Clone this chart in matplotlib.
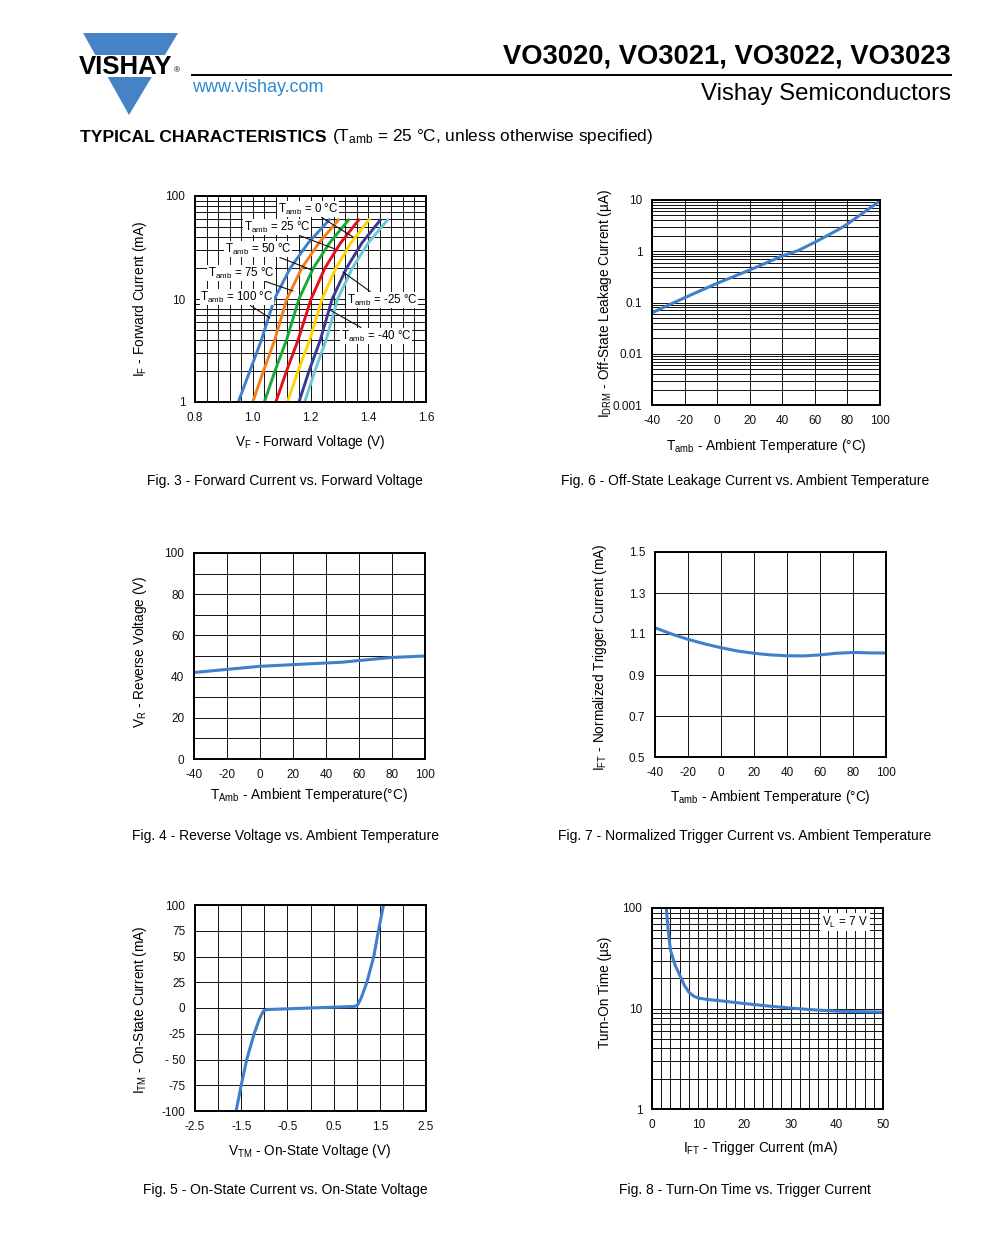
import numpy as np
import matplotlib
matplotlib.use('Agg')
import matplotlib.pyplot as plt
from matplotlib.ticker import MultipleLocator, FixedLocator, FixedFormatter, LogLocator, NullFormatter
from matplotlib.patches import Polygon, Rectangle

plt.rcParams['font.family'] = ['Liberation Sans', 'DejaVu Sans']
plt.rcParams['mathtext.fontset'] = 'custom'
plt.rcParams['mathtext.rm'] = 'Liberation Sans'
plt.rcParams['mathtext.it'] = 'Liberation Sans:italic'
plt.rcParams['mathtext.bf'] = 'Liberation Sans:bold'
plt.rcParams['axes.unicode_minus'] = False

# ---------------- data ----------------
# Fig. 3 forward current vs forward voltage
fig3_current = [1, 2, 4, 10, 20, 35, 60]  # mA
fig3_temps = ['100', '75', '50', '25', '0', '-25', '-40']
fig3_v_100 = [0.950, 0.990, 1.030, 1.075, 1.130, 1.192, 1.268]
fig3_v_75 = [1.000, 1.037, 1.076, 1.118, 1.170, 1.229, 1.300]
fig3_v_50 = [1.040, 1.077, 1.117, 1.160, 1.210, 1.266, 1.335]
fig3_v_25 = [1.080, 1.117, 1.157, 1.202, 1.250, 1.304, 1.370]
fig3_v_0 = [1.120, 1.157, 1.197, 1.240, 1.288, 1.340, 1.405]
fig3_v_m25 = [1.160, 1.195, 1.234, 1.275, 1.325, 1.378, 1.445]
fig3_v_m40 = [1.180, 1.215, 1.254, 1.294, 1.345, 1.400, 1.470]

# Fig. 6 off-state leakage current vs temperature
fig6_temp = [-40, -20, 0, 20, 40, 50, 60, 75, 80, 100]
fig6_idrm = [0.063, 0.124, 0.237, 0.43, 0.81, 1.04, 1.50, 2.7, 3.4, 9.6]

# Fig. 4 reverse voltage vs temperature
fig4_temp = [-40, -20, 0, 20, 40, 50, 60, 80, 100]
fig4_vr = [42.0, 43.5, 45.0, 45.8, 46.6, 47.0, 47.8, 49.3, 50.0]

# Fig. 7 normalized trigger current vs temperature
fig7_temp = [-40, -30, -20, -10, 0, 10, 20, 30, 40, 50, 60, 70, 80, 90, 100]
fig7_ift = [1.130, 1.100, 1.074, 1.052, 1.033, 1.017, 1.006, 0.998, 0.994, 0.993, 0.998, 1.006, 1.010, 1.008, 1.007]

# Fig. 5 on-state current vs on-state voltage
fig5_v = [-1.61, -1.50, -1.38, -1.22, -1.10, -1.02, -0.95, -0.5, 0.0, 0.5, 0.95, 1.02, 1.10, 1.22, 1.37, 1.47, 1.58]
fig5_i = [-100, -75, -50, -25, -10, -3, -1.5, -0.8, 0, 0.8, 1.5, 3, 10, 25, 50, 75, 100]

# Fig. 8 turn-on time vs trigger current
fig8_ift = [3.1, 3.5, 4, 5, 6, 7, 8, 9, 10, 12, 15, 20, 25, 30, 35, 40, 45, 50]
fig8_ton = [100, 60, 38, 27, 21.5, 17, 14.5, 13.3, 12.7, 12.3, 11.9, 11.2, 10.6, 10.1, 9.7, 9.4, 9.3, 9.2]

BLUE = '#3f7fcb'
fig3_colors = ['#3f7fcb', '#f07f1c', '#19a83c', '#e3101f', '#ffd400', '#393a93', '#6cc6d6']

# ---------------- figure ----------------
W, H = 1000, 1250
fig = plt.figure(figsize=(10, 12.5), dpi=100)


def rect(l, t, r, b):
    return [l / W, 1 - b / H, (r - l) / W, (b - t) / H]


def fx(px):
    return px / W


def fy(py):
    return 1 - py / H


def style(ax):
    for s in ax.spines.values():
        s.set_linewidth(1.4)
        s.set_color('black')
        s.set_zorder(5)
    ax.tick_params(which='both', length=0, labelsize=8.5, pad=7, colors='#111111')
    ax.grid(which='both', color='#111111', lw=0.7)
    ax.set_axisbelow(True)


LBL = 9.8
CAP = 10.0

# ---- Fig 3
ax3 = fig.add_axes(rect(195, 196, 426, 402))
style(ax3)
ax3.set_yscale('log')
ax3.set_xlim(0.8, 1.6)
ax3.set_ylim(1, 100)
ax3.xaxis.set_major_locator(FixedLocator([0.8, 1.0, 1.2, 1.4, 1.6]))
ax3.xaxis.set_major_formatter(FixedFormatter(['0.8', '1.0', '1.2', '1.4', '1.6']))
ax3.xaxis.set_minor_locator(MultipleLocator(0.04))
ax3.yaxis.set_major_locator(FixedLocator([1, 10, 100]))
ax3.yaxis.set_major_formatter(FixedFormatter(['1', '10', '100']))
ax3.yaxis.set_minor_locator(LogLocator(base=10, subs=np.arange(2, 10)))
ax3.yaxis.set_minor_formatter(NullFormatter())
for v, c in zip([fig3_v_100, fig3_v_75, fig3_v_50, fig3_v_25, fig3_v_0, fig3_v_m25, fig3_v_m40], fig3_colors):
    ax3.plot(v, fig3_current, color=c, lw=2.1, solid_capstyle='butt', zorder=3)


def pxa(px, py):
    # pixel -> axes fraction of ax3
    return ((px - 195) / 231, (402 - py) / 206)


labels3 = [
    (r'T$_{\rm amb}$ = 0 °C', (308, 209), (353, 237)),
    (r'T$_{\rm amb}$ = 25 °C', (277, 227), (335, 249)),
    (r'T$_{\rm amb}$ = 50 °C', (258, 249), (312, 270)),
    (r'T$_{\rm amb}$ = 75 °C', (241, 273), (293, 291)),
    (r'T$_{\rm amb}$ = 100 °C', (237, 297), (270, 318)),
    (r'T$_{\rm amb}$ = -25 °C', (382, 300), (343, 272)),
    (r'T$_{\rm amb}$ = -40 °C', (376, 336), (330, 310)),
]
for txt, tpos, lpos in labels3:
    ax3.annotate(txt, xy=pxa(*lpos), xycoords='axes fraction', xytext=pxa(*tpos),
                 textcoords='axes fraction', ha='center', va='center', fontsize=8.3,
                 bbox=dict(boxstyle='square,pad=0.08', fc='white', ec='none'),
                 arrowprops=dict(arrowstyle='-', lw=0.8, color='#111111', shrinkA=0, shrinkB=0),
                 zorder=4)

fig.text(fx(140), fy(299), r'I$_{\rm F}$ - Forward Current (mA)', rotation=90, ha='center', va='center', fontsize=LBL)
fig.text(fx(310), fy(442), r'V$_{\rm F}$ - Forward Voltage (V)', ha='center', va='center', fontsize=LBL)
fig.text(fx(285), fy(481), 'Fig. 3 - Forward Current vs. Forward Voltage', ha='center', va='center', fontsize=CAP)

# ---- Fig 6
ax6 = fig.add_axes(rect(652, 200, 880, 405))
style(ax6)
ax6.set_yscale('log')
ax6.set_xlim(-40, 100)
ax6.set_ylim(0.001, 10)
ax6.xaxis.set_major_locator(MultipleLocator(20))
ax6.yaxis.set_major_locator(FixedLocator([0.001, 0.01, 0.1, 1, 10]))
ax6.yaxis.set_major_formatter(FixedFormatter(['0.001', '0.01', '0.1', '1', '10']))
ax6.yaxis.set_minor_locator(LogLocator(base=10, subs=np.arange(2, 10)))
ax6.yaxis.set_minor_formatter(NullFormatter())
ax6.plot(fig6_temp, fig6_idrm, color=BLUE, lw=2.2, zorder=3)
fig.text(fx(605), fy(304), r'I$_{\rm DRM}$ - Off-State Leakage Current (µA)', rotation=90, ha='center', va='center', fontsize=LBL)
fig.text(fx(766), fy(446), r'T$_{\rm amb}$ - Ambient Temperature (°C)', ha='center', va='center', fontsize=LBL)
fig.text(fx(745), fy(481), 'Fig. 6 - Off-State Leakage Current vs. Ambient Temperature', ha='center', va='center', fontsize=CAP)

# ---- Fig 4
ax4 = fig.add_axes(rect(194, 553, 425, 759))
style(ax4)
ax4.set_xlim(-40, 100)
ax4.set_ylim(0, 100)
ax4.xaxis.set_major_locator(MultipleLocator(20))
ax4.yaxis.set_major_locator(MultipleLocator(20))
ax4.yaxis.set_minor_locator(MultipleLocator(10))
ax4.plot(fig4_temp, fig4_vr, color=BLUE, lw=2.2, zorder=3)
fig.text(fx(140), fy(652), r'V$_{\rm R}$ - Reverse Voltage (V)', rotation=90, ha='center', va='center', fontsize=LBL)
fig.text(fx(309), fy(795), r'T$_{\rm Amb}$ - Ambient Temperature(°C)', ha='center', va='center', fontsize=LBL)
fig.text(fx(285), fy(836), 'Fig. 4 - Reverse Voltage vs. Ambient Temperature', ha='center', va='center', fontsize=CAP)

# ---- Fig 7
ax7 = fig.add_axes(rect(655, 552, 886, 757))
style(ax7)
ax7.set_xlim(-40, 100)
ax7.set_ylim(0.5, 1.5)
ax7.xaxis.set_major_locator(MultipleLocator(20))
ax7.yaxis.set_major_locator(FixedLocator([0.5, 0.7, 0.9, 1.1, 1.3, 1.5]))
ax7.yaxis.set_major_formatter(FixedFormatter(['0.5', '0.7', '0.9', '1.1', '1.3', '1.5']))
ax7.plot(fig7_temp, fig7_ift, color=BLUE, lw=2.2, zorder=3)
fig.text(fx(600), fy(657), r'I$_{\rm FT}$ - Normalized Trigger Current (mA)', rotation=90, ha='center', va='center', fontsize=LBL)
fig.text(fx(770), fy(797), r'T$_{\rm amb}$ - Ambient Temperature (°C)', ha='center', va='center', fontsize=LBL)
fig.text(fx(745), fy(836), 'Fig. 7 - Normalized Trigger Current vs. Ambient Temperature', ha='center', va='center', fontsize=CAP)

# ---- Fig 5
ax5 = fig.add_axes(rect(195, 905, 426, 1111))
style(ax5)
ax5.set_xlim(-2.5, 2.5)
ax5.set_ylim(-100, 100)
ax5.xaxis.set_major_locator(FixedLocator([-2.5, -1.5, -0.5, 0.5, 1.5, 2.5]))
ax5.xaxis.set_major_formatter(FixedFormatter(['-2.5', '-1.5', '-0.5', '0.5', '1.5', '2.5']))
ax5.xaxis.set_minor_locator(MultipleLocator(0.5))
ax5.yaxis.set_major_locator(FixedLocator([-100, -75, -50, -25, 0, 25, 50, 75, 100]))
ax5.yaxis.set_major_formatter(FixedFormatter(['-100', '-75', '- 50', '-25', '0', '25', '50', '75', '100']))
ax5.plot(fig5_v, fig5_i, color=BLUE, lw=2.2, zorder=3)
fig.text(fx(140), fy(1010), r'I$_{\rm TM}$ - On-State Current (mA)', rotation=90, ha='center', va='center', fontsize=LBL)
fig.text(fx(310), fy(1151), r'V$_{\rm TM}$ - On-State Voltage (V)', ha='center', va='center', fontsize=LBL)
fig.text(fx(285), fy(1190), 'Fig. 5 - On-State Current vs. On-State Voltage', ha='center', va='center', fontsize=CAP)

# ---- Fig 8
ax8 = fig.add_axes(rect(652, 908, 883, 1109))
style(ax8)
ax8.set_yscale('log')
ax8.set_xlim(0, 50)
ax8.set_ylim(1, 100)
ax8.xaxis.set_major_locator(MultipleLocator(10))
ax8.xaxis.set_minor_locator(MultipleLocator(2))
ax8.yaxis.set_major_locator(FixedLocator([1, 10, 100]))
ax8.yaxis.set_major_formatter(FixedFormatter(['1', '10', '100']))
ax8.yaxis.set_minor_locator(LogLocator(base=10, subs=np.arange(2, 10)))
ax8.yaxis.set_minor_formatter(NullFormatter())
ax8.plot(fig8_ift, fig8_ton, color=BLUE, lw=2.2, zorder=3)
ax8.text((845 - 652) / 231, (1109 - 922) / 201, r'V$_{\rm L}$ = 7 V', transform=ax8.transAxes,
         ha='center', va='center', fontsize=8.5,
         bbox=dict(boxstyle='square,pad=0.15', fc='white', ec='none'), zorder=4)
fig.text(fx(605), fy(992), 'Turn-On Time (µs)', rotation=90, ha='center', va='center', fontsize=LBL)
fig.text(fx(760), fy(1148), r'I$_{\rm FT}$ - Trigger Current (mA)', ha='center', va='center', fontsize=LBL)
fig.text(fx(745), fy(1190), 'Fig. 8 - Turn-On Time vs. Trigger Current', ha='center', va='center', fontsize=CAP)

# ---------------- header ----------------
VBLUE = '#4683c6'
tri = Polygon([(fx(83), fy(33)), (fx(178), fy(33)), (fx(129), fy(115))], closed=True,
              transform=fig.transFigure, fc=VBLUE, ec='none')
fig.patches.append(tri)
band = Rectangle((fx(76), fy(77)), (186 - 76) / W, 22 / H, transform=fig.transFigure, fc='white', ec='none')
fig.patches.append(band)
fig.text(fx(126), fy(66.5), 'VISHAY', ha='center', va='center', fontsize=18.5, fontweight='bold', color='black')
fig.text(fx(177), fy(71), '®', ha='center', va='center', fontsize=6, color='black')
fig.add_artist(plt.Line2D([fx(192), fx(951)], [fy(75), fy(75)], color='black', lw=1.4, transform=fig.transFigure))
fig.text(fx(192), fy(87), 'www.vishay.com', ha='left', va='center', fontsize=13, color='#2a8bd0')
fig.text(fx(951), fy(56), 'VO3020, VO3021, VO3022, VO3023', ha='right', va='center', fontsize=19.7, fontweight='bold')
fig.text(fx(951), fy(94), 'Vishay Semiconductors', ha='right', va='center', fontsize=17.3)

t1 = fig.text(fx(80), fy(137), 'TYPICAL CHARACTERISTICS', ha='left', va='center', fontsize=12.6, fontweight='heavy')
fig.canvas.draw()
bb = t1.get_window_extent(renderer=fig.canvas.get_renderer())
fig.text(bb.x1 / W + 0.005, fy(137), r'(T$_{\rm amb}$ = 25 °C, unless otherwise specified)', ha='left', va='center', fontsize=12.4)

fig.savefig('out.png', dpi=100)
